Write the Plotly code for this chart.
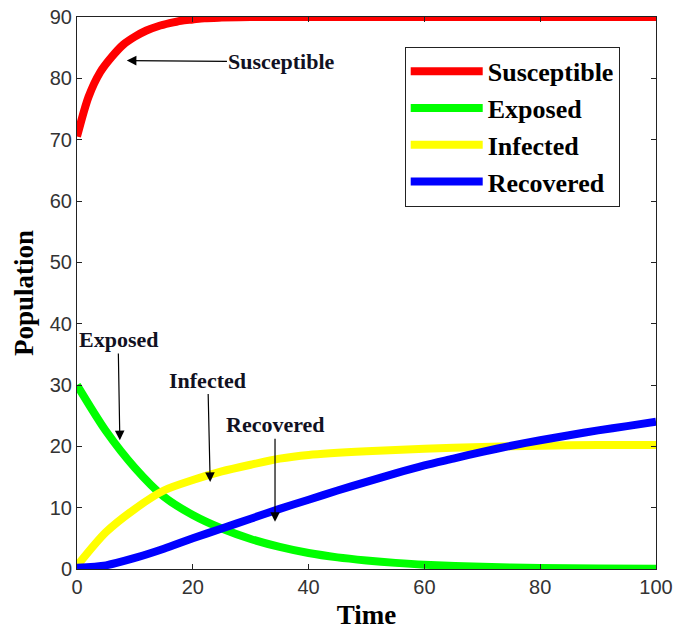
import plotly.graph_objects as go

# Time samples and compartment sizes
t_s = [0, 2, 4, 6, 8, 10, 12, 14, 16, 18, 20, 22, 25, 30, 40, 50, 60, 70, 80, 90, 100]
susceptible = [70.5, 77.0, 81.0, 83.5, 85.5, 86.8, 87.8, 88.5, 89.0, 89.4, 89.6, 89.8, 89.9, 90, 90, 90, 90, 90, 90, 90, 90]

t_e = [0, 5, 10, 15, 20, 25, 30, 35, 40, 45, 50, 55, 60, 70, 80, 90, 100]
exposed = [30.0, 22.5, 16.5, 11.8, 8.8, 6.6, 4.9, 3.6, 2.6, 1.9, 1.4, 1.0, 0.7, 0.35, 0.15, 0.08, 0.03]

t_i = [0, 5, 10, 15, 20, 25, 30, 35, 40, 50, 60, 70, 80, 90, 100]
infected = [0.5, 6.0, 9.8, 12.8, 14.5, 15.9, 17.0, 18.0, 18.6, 19.2, 19.6, 19.9, 20.1, 20.2, 20.2]

t_r = [0, 5, 10, 15, 20, 25, 30, 35, 40, 45, 50, 55, 60, 65, 70, 75, 80, 85, 90, 95, 100]
recovered = [0.2, 0.6, 1.8, 3.3, 5.0, 6.6, 8.2, 9.8, 11.3, 12.8, 14.2, 15.6, 16.9, 18.0, 19.1, 20.1, 21.0, 21.8, 22.6, 23.3, 24.0]

x_ticks = [0, 20, 40, 60, 80, 100]
y_ticks = [0, 10, 20, 30, 40, 50, 60, 70, 80, 90]

series = [
    ("Susceptible", t_s, susceptible, "#ff0000"),
    ("Exposed", t_e, exposed, "#00ff00"),
    ("Infected", t_i, infected, "#ffff00"),
    ("Recovered", t_r, recovered, "#0000ff"),
]

fig = go.Figure()
for name, t, v, c in series:
    fig.add_trace(go.Scatter(
        x=t, y=v, name="<b>" + name + "</b>", mode="lines",
        line=dict(color=c, width=8, shape="spline", smoothing=0.8),
    ))

serif = "Liberation Serif"
label_font = dict(family=serif, size=22, color="#111122")

# Callout labels with arrows pointing at each curve: (text, tip x, tip y, label x, label y)
callouts = [
    ("<b>Susceptible</b>", 8.6, 82.9, 35.4, 82.7),
    ("<b>Exposed</b>", 7.4, 21.0, 7.1, 37.4),
    ("<b>Infected</b>", 23.0, 14.2, 22.6, 30.8),
    ("<b>Recovered</b>", 34.2, 7.7, 34.2, 23.5),
]
for txt, x, y, ax, ay in callouts:
    fig.add_annotation(
        text=txt, x=x, y=y, ax=ax, ay=ay, xref="x", yref="y", axref="x", ayref="y",
        showarrow=True, arrowhead=2, arrowsize=1.6, arrowwidth=1.2, arrowcolor="black",
        font=label_font,
    )

axis_common = dict(
    showline=True, linecolor="#222222", linewidth=1, mirror="ticks",
    ticks="inside", ticklen=5, tickcolor="#222222", showgrid=False, zeroline=False,
    tickfont=dict(family="Liberation Sans", size=20, color="#333333"),
    automargin=False, ticklabeloverflow="allow",
)

fig.update_xaxes(range=[0, 100], tickvals=x_ticks,
                 title=dict(text="<b>Time</b>", font=dict(family=serif, size=27, color="black"), standoff=8),
                 **axis_common)
fig.update_yaxes(range=[0, 90], tickvals=y_ticks,
                 title=dict(text="<b>Population</b>", font=dict(family=serif, size=27, color="black"), standoff=8),
                 **axis_common)

fig.update_layout(
    width=673, height=633,
    margin=dict(l=77, r=17, t=17, b=64),
    plot_bgcolor="white", paper_bgcolor="white",
    showlegend=True,
    legend=dict(
        x=0.566, y=0.946, xanchor="left", yanchor="top",
        bordercolor="#222222", borderwidth=1, bgcolor="white",
        font=dict(family=serif, size=26, color="black"),
        tracegroupgap=0, itemwidth=72,
    ),
)

fig.write_html("out.html")
